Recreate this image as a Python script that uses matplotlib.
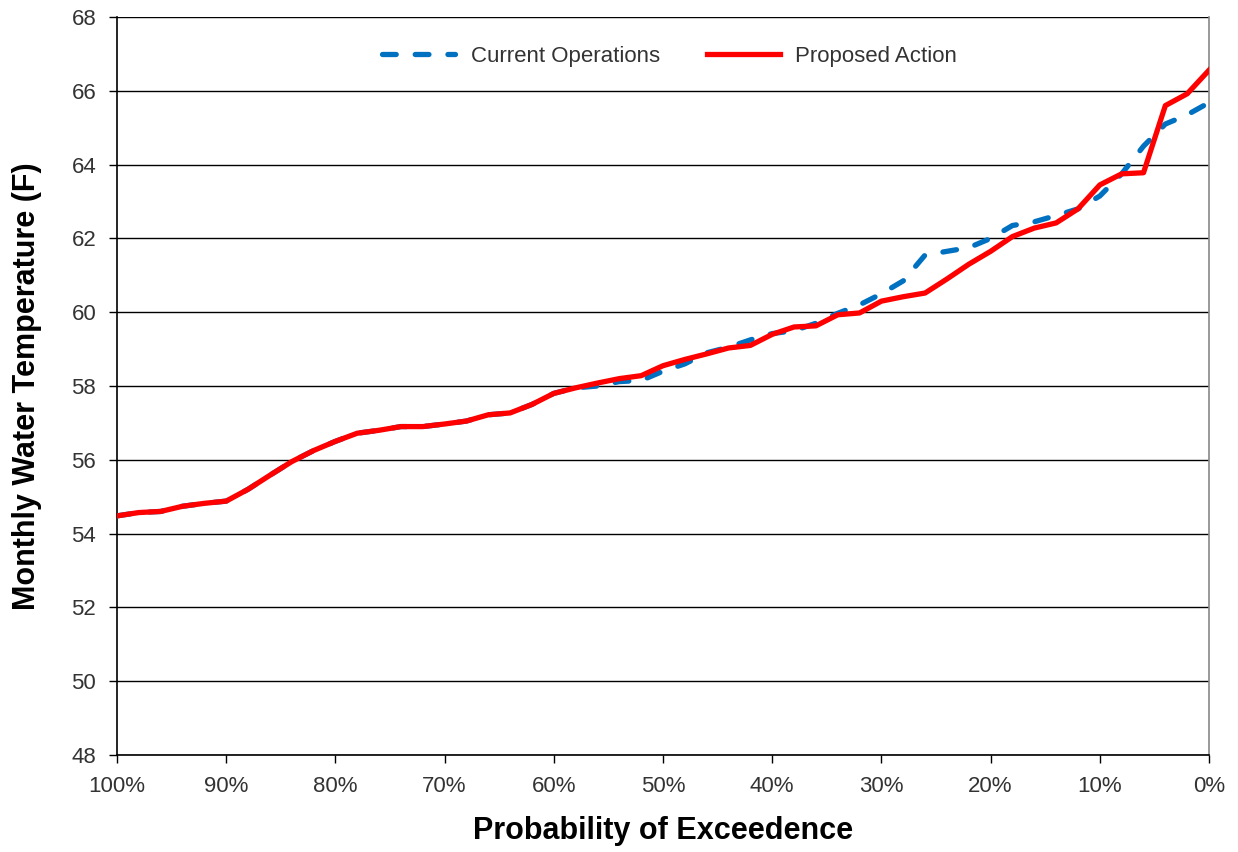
import matplotlib
matplotlib.use("Agg")
import matplotlib.pyplot as plt
from matplotlib.ticker import FixedLocator

plt.rcParams['font.family'] = ['Liberation Sans', 'DejaVu Sans']

# Probability of exceedence (%)
prob = [100, 98, 96, 94, 92, 90, 88, 86, 84, 82, 80, 78, 76, 74, 72, 70, 68, 66, 64, 62,
        60, 58, 56, 54, 52, 50, 48, 46, 44, 42, 40, 38, 36, 34, 32, 30, 28, 26, 24, 22,
        20, 18, 16, 14, 12, 10, 8, 6, 4, 2, 0]

current_ops = [54.48, 54.57, 54.6, 54.74, 54.82, 54.88, 55.2, 55.58, 55.95, 56.25,
               56.5, 56.72, 56.8, 56.9, 56.9, 56.97, 57.05, 57.22, 57.27, 57.5,
               57.8, 57.95, 58.0, 58.12, 58.15, 58.4, 58.6, 58.9, 59.05, 59.25,
               59.42, 59.5, 59.7, 59.97, 60.2, 60.5, 60.85, 61.55, 61.65, 61.75,
               62.0, 62.35, 62.45, 62.62, 62.8, 63.15, 63.75, 64.5, 65.1, 65.35, 65.68]

proposed = [54.48, 54.57, 54.6, 54.74, 54.82, 54.88, 55.2, 55.58, 55.95, 56.25,
            56.5, 56.72, 56.8, 56.9, 56.9, 56.97, 57.05, 57.22, 57.27, 57.5,
            57.8, 57.95, 58.08, 58.2, 58.28, 58.55, 58.72, 58.87, 59.03, 59.1,
            59.4, 59.6, 59.63, 59.93, 59.98, 60.3, 60.42, 60.52, 60.9, 61.3,
            61.65, 62.05, 62.28, 62.42, 62.8, 63.45, 63.75, 63.78, 65.6, 65.92, 66.56]

x_ticks = [100, 90, 80, 70, 60, 50, 40, 30, 20, 10, 0]
x_tick_labels = ['100%', '90%', '80%', '70%', '60%', '50%', '40%', '30%', '20%', '10%', '0%']
y_ticks = [48, 50, 52, 54, 56, 58, 60, 62, 64, 66, 68]

fig = plt.figure(figsize=(12.38, 8.52), dpi=100)
ax = fig.add_axes([0.0945, 0.1139, 0.8821, 0.8661])

ax.plot(prob, current_ops, color='#0070C0', lw=3.8, dashes=(2.6, 3.6),
        dash_capstyle='round', label='Current Operations', zorder=3)
ax.plot(prob, proposed, color='#FF0000', lw=3.8, label='Proposed Action', zorder=4,
        solid_joinstyle='round')

ax.set_xlim(100, 0)
ax.set_ylim(48, 68)
ax.xaxis.set_major_locator(FixedLocator(x_ticks))
ax.set_xticklabels(x_tick_labels)
ax.yaxis.set_major_locator(FixedLocator(y_ticks))

ax.grid(axis='y', color='black', lw=1.0)
ax.set_axisbelow(True)
for s in ['left', 'bottom']:
    ax.spines[s].set_color('black')
    ax.spines[s].set_linewidth(1.2)
ax.spines['right'].set_color('#888888')
ax.spines['right'].set_linewidth(1.2)
ax.spines['top'].set_visible(False)

ax.tick_params(axis='both', direction='out', length=6, width=1, labelsize=16,
               colors='black', labelcolor='#333333')
ax.tick_params(axis='x', pad=9)
ax.tick_params(axis='y', pad=9)

ax.set_xlabel('Probability of Exceedence', fontsize=22, fontweight='bold', labelpad=14)
ax.set_ylabel('Monthly Water Temperature (F)', fontsize=22, fontweight='bold', labelpad=21)

leg = ax.legend(loc='center', bbox_to_anchor=(0.506, 0.947), ncol=2, frameon=False,
                fontsize=16, handlelength=3.3, columnspacing=2.1, handletextpad=0.7)
for t in leg.get_texts():
    t.set_color('#333333')

fig.savefig('out.png', dpi=100)
